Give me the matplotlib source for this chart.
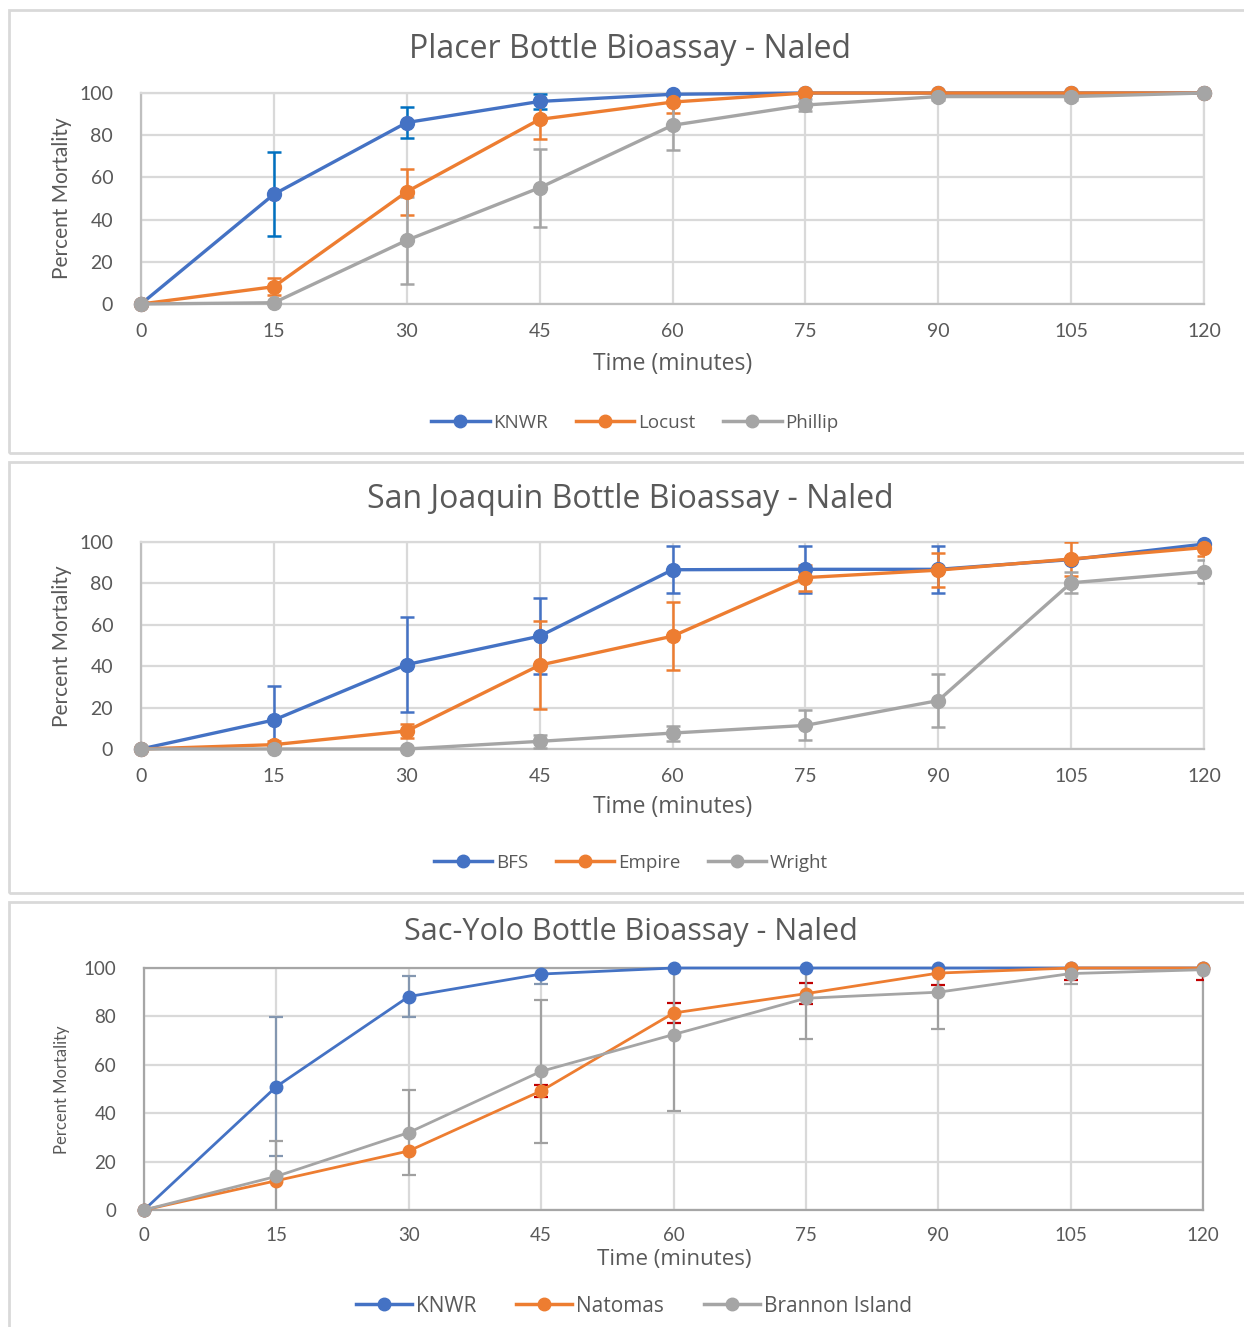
import matplotlib
matplotlib.use("Agg")
import matplotlib.pyplot as plt
import numpy as np
from matplotlib.lines import Line2D
from matplotlib.patches import Rectangle

plt.rcParams["font.family"] = ["Lato", "DejaVu Sans"]
WIDE = ["Open Sans", "DejaVu Sans"]

W, H = 1244, 1327

# --- data -------------------------------------------------------------
time_min = [0, 15, 30, 45, 60, 75, 90, 105, 120]

placer_knwr = [0, 52, 86, 96, 99.4, 100, 100, 100, 100]
placer_knwr_err = [0, 20, 7.5, 3.5, 0, 0, 0, 0, 0]
placer_locust = [0, 8.2, 53.2, 87.5, 95.7, 100, 100, 100, 100]
placer_locust_err = [0, 4, 11, 9.3, 5.2, 0, 0, 0, 0]
placer_phillip = [0, 0.6, 30.2, 55.1, 84.7, 94.3, 98.3, 98.3, 100]
placer_phillip_err = [0, 0.5, 20.7, 18.5, 11.7, 3, 1.5, 1.5, 0]

sj_bfs = [0, 14, 40.8, 54.5, 86.6, 86.8, 86.8, 91.5, 99]
sj_bfs_err = [0, 16.5, 22.8, 18.5, 11.4, 11.4, 11.4, 0, 0]
sj_empire = [0, 2.1, 8.7, 40.5, 54.5, 82.8, 86.4, 91.8, 97.3]
sj_empire_err = [0, 2, 3.2, 21.4, 16.4, 6.3, 8.1, 8.1, 4]
sj_wright = [0, 0, 0, 3.7, 7.7, 11.4, 23.4, 80.3, 85.7]
sj_wright_err = [0, 0, 0, 3.2, 3.6, 7.2, 13, 5, 5.4]

sy_knwr = [0, 51, 88.2, 97.5, 100, 100, 100, 100, 100]
sy_knwr_err = [0, 28.7, 8.4, 4.3, 0, 0, 0, 0, 0]
sy_natomas = [0, 12.1, 24.4, 49.2, 81.4, 89.4, 97.9, 100, 100]
sy_natomas_err = [0, 0, 0, 2.5, 4, 4.4, 5, 5, 5]
sy_brannon = [0, 13.9, 32, 57.3, 72.5, 87.5, 90, 97.7, 99.3]
sy_brannon_err = [0, 14.7, 17.4, 29.5, 31.6, 17, 15.4, 4.3, 0]

BLUE, ORANGE, GRAY = "#4472C4", "#ED7D31", "#A5A5A5"
TXT = "#595959"


def rect(l, t, r, b):
    return [l / W, 1 - b / H, (r - l) / W, (b - t) / H]


fig = plt.figure(figsize=(W / 100, H / 100), dpi=100)

# panel frames
for (l, t, r, b) in [(9, 10, 1250, 453), (9, 462, 1250, 893), (9, 902, 1250, 1335)]:
    fig.patches.append(Rectangle((l / W, 1 - b / H), (r - l) / W, (b - t) / H,
                                 transform=fig.transFigure, fill=False,
                                 edgecolor="#D9D9D9", lw=2))


def draw_series(ax, y, err, color, ecolor, lw, ms, elw, cap):
    x = np.array(time_min)
    y = np.array(y, dtype=float)
    e = np.array(err, dtype=float)
    m = e > 0
    ax.errorbar(x[m], y[m], yerr=e[m], fmt="none", ecolor=ecolor,
                elinewidth=elw, capsize=cap, capthick=elw, zorder=3)
    ax.plot(x, y, color=color, lw=lw, marker="o", ms=ms, clip_on=False, zorder=4)


def style_axes(ax, box=False, fs=14, pad=14):
    ax.set_xlim(0, 120)
    ax.set_ylim(0, 100)
    ax.set_xticks(time_min)
    ax.set_yticks(range(0, 101, 20))
    ax.grid(color="#D9D9D9", lw=1.6)
    ax.set_axisbelow(True)
    ax.tick_params(length=0, labelsize=fs, labelcolor=TXT, pad=pad)
    ax.tick_params(axis="y", pad=20)
    for s in ["top", "right"]:
        ax.spines[s].set_color("#A6A6A6" if box else "#D9D9D9")
        ax.spines[s].set_linewidth(1.6)
    for s in ["left", "bottom"]:
        ax.spines[s].set_color("#A6A6A6" if box else "#BFBFBF")
        ax.spines[s].set_linewidth(1.6)


def legend(names, x, y, fs, hl, cs=1.5):
    handles = [Line2D([], [], color=c, lw=2.5, marker="o", ms=9) for c in (BLUE, ORANGE, GRAY)]
    fig.legend(handles, names, loc="center", bbox_to_anchor=(x / W, 1 - y / H),
               ncol=3, frameon=False, handlelength=hl,
               handletextpad=0.2, columnspacing=cs, labelcolor=TXT,
               prop={"family": WIDE, "size": fs})


# --- Placer -----------------------------------------------------------
ax1 = fig.add_axes(rect(141, 93, 1204, 304))
style_axes(ax1)
draw_series(ax1, placer_knwr, placer_knwr_err, BLUE, "#0070C0", 2.4, 10, 1.8, 5)
draw_series(ax1, placer_locust, placer_locust_err, ORANGE, ORANGE, 2.4, 10, 1.8, 5)
draw_series(ax1, placer_phillip, placer_phillip_err, GRAY, GRAY, 2.4, 10, 1.8, 5)
fig.text(630 / W, 1 - 49 / H, "Placer Bottle Bioassay - Naled", ha="center", va="center",
         fontsize=23, color=TXT, family=WIDE)
fig.text(673 / W, 1 - 364 / H, "Time (minutes)", ha="center", va="center", fontsize=16.5,
         color=TXT, family=WIDE)
fig.text(62 / W, 1 - 198 / H, "Percent Mortality", ha="center", va="center", rotation=90,
         fontsize=15, color=TXT)
legend(["KNWR", "Locust", "Phillip"], 635, 423, 13.5, 3.1)

# --- San Joaquin ------------------------------------------------------
ax2 = fig.add_axes(rect(141, 542, 1204, 749))
style_axes(ax2)
draw_series(ax2, sj_bfs, sj_bfs_err, BLUE, BLUE, 2.4, 10, 1.8, 5)
draw_series(ax2, sj_empire, sj_empire_err, ORANGE, ORANGE, 2.4, 10, 1.8, 5)
draw_series(ax2, sj_wright, sj_wright_err, GRAY, GRAY, 2.4, 10, 1.8, 5)
fig.text(630 / W, 1 - 499 / H, "San Joaquin Bottle Bioassay - Naled", ha="center", va="center",
         fontsize=23, color=TXT, family=WIDE)
fig.text(673 / W, 1 - 807 / H, "Time (minutes)", ha="center", va="center", fontsize=16.5,
         color=TXT, family=WIDE)
fig.text(62 / W, 1 - 646 / H, "Percent Mortality", ha="center", va="center", rotation=90,
         fontsize=15, color=TXT)
legend(["BFS", "Empire", "Wright"], 631, 863, 13.5, 3.1)

# --- Sac-Yolo ---------------------------------------------------------
ax3 = fig.add_axes(rect(144, 968, 1203, 1210))
style_axes(ax3, box=True, fs=13.5, pad=12)
draw_series(ax3, sy_knwr, sy_knwr_err, BLUE, "#8497B0", 2.0, 9, 1.6, 5)
draw_series(ax3, sy_natomas, sy_natomas_err, ORANGE, "#C00000", 2.0, 9, 1.6, 5)
draw_series(ax3, sy_brannon, sy_brannon_err, GRAY, "#A0A0A0", 2.0, 9, 1.6, 5)
fig.text(631 / W, 1 - 932 / H, "Sac-Yolo Bottle Bioassay - Naled", ha="center", va="center",
         fontsize=22, color=TXT, family=WIDE)
fig.text(674 / W, 1 - 1259 / H, "Time (minutes)", ha="center", va="center", fontsize=16,
         color=TXT, family=WIDE)
fig.text(62 / W, 1 - 1090 / H, "Percent Mortality", ha="center", va="center", rotation=90,
         fontsize=12, color=TXT, family=["Liberation Sans Narrow", "Lato"])
legend(["KNWR", "Natomas", "Brannon Island"], 634, 1306, 15, 2.7, cs=1.9)

fig.savefig("out.png", dpi=100)
